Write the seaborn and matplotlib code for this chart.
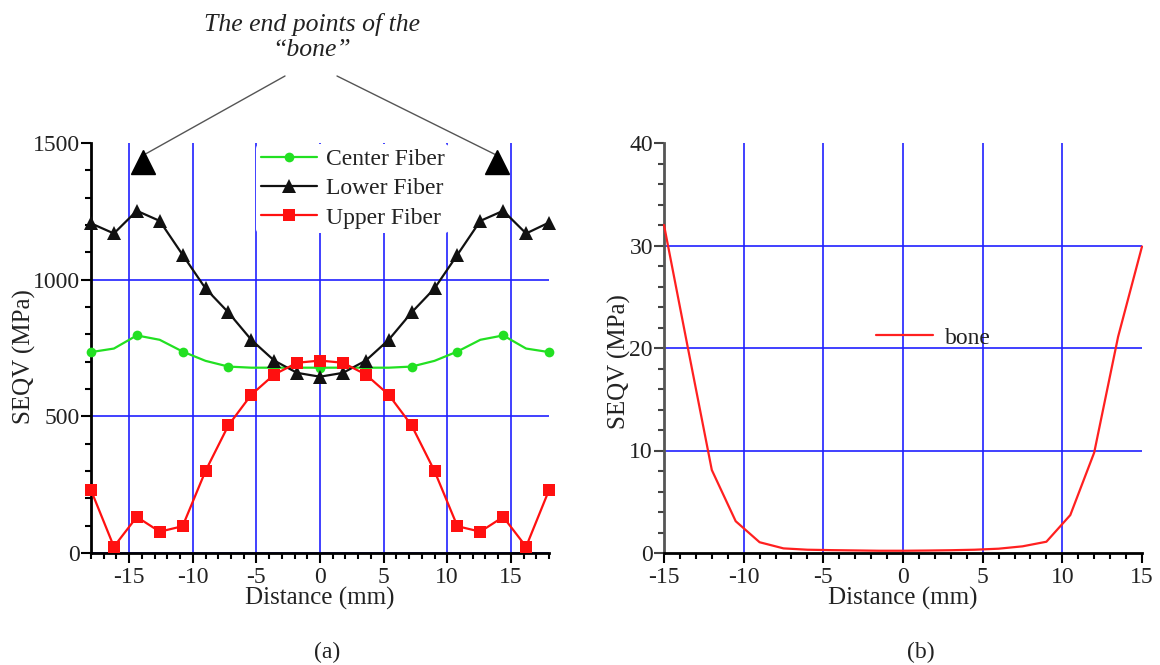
import numpy as np
import pandas as pd
import matplotlib
matplotlib.use("Agg")
import matplotlib.pyplot as plt
import seaborn as sns
from matplotlib.ticker import MultipleLocator

# ---------------- data ----------------
fiber_x = [-18.0, -16.2, -14.4, -12.6, -10.8, -9.0, -7.2, -5.4, -3.6, -1.8, 0.0,
           1.8, 3.6, 5.4, 7.2, 9.0, 10.8, 12.6, 14.4, 16.2, 18.0]
center_fiber = [735, 748, 796, 780, 737, 703, 682, 678, 678, 678, 678,
                678, 678, 678, 682, 703, 737, 780, 796, 748, 735]
lower_fiber = [1206, 1169, 1252, 1215, 1091, 968, 880, 780, 704, 659, 645,
               659, 704, 780, 880, 968, 1091, 1215, 1252, 1169, 1209]
upper_fiber = [230, 23, 132, 78, 98, 300, 467, 579, 653, 696, 704,
               696, 653, 579, 467, 300, 98, 78, 132, 23, 230]

bone_x = [-15.0, -13.5, -12.0, -10.5, -9.0, -7.5, -6.0, -4.5, -3.0, -1.5, 0.0,
          1.5, 3.0, 4.5, 6.0, 7.5, 9.0, 10.5, 12.0, 13.5, 15.0]
bone_y = [32.0, 20.0, 8.1, 3.1, 1.05, 0.45, 0.32, 0.28, 0.25, 0.22, 0.22,
          0.24, 0.27, 0.32, 0.42, 0.65, 1.1, 3.7, 9.8, 21.1, 29.9]

end_points_x = [-13.9, 13.9]
end_points_y = [1430, 1430]

left_xticks = [-15, -10, -5, 0, 5, 10, 15]
left_yticks = [0, 500, 1000, 1500]
right_xticks = [-15, -10, -5, 0, 5, 10, 15]
right_yticks = [0, 10, 20, 30, 40]

# ---------------- style ----------------
sns.set_theme(style="white")
plt.rcParams["font.family"] = ["Liberation Serif", "DejaVu Serif"]
plt.rcParams["font.size"] = 17
plt.rcParams["axes.unicode_minus"] = False
text_color = "#222222"
grid_blue = "#2020ff"
FS_TICK = 17
FS_LABEL = 18
FS_LEG = 17

W, H = 1160, 665
fig = plt.figure(figsize=(W / 100, H / 100), dpi=100)

def px_axes(x0, y0, x1, y1):
    return fig.add_axes([x0 / W, 1 - y1 / H, (x1 - x0) / W, (y1 - y0) / H])

ax1 = px_axes(91, 143, 549, 553)
ax2 = px_axes(664, 143, 1142, 553)

fiber_df = pd.DataFrame({
    "x": fiber_x * 3,
    "y": center_fiber + lower_fiber + upper_fiber,
    "series": ["Center Fiber"] * len(fiber_x) + ["Lower Fiber"] * len(fiber_x)
              + ["Upper Fiber"] * len(fiber_x),
})

styles = {
    "Center Fiber": dict(color="#22e022", marker="o", markersize=7, markevery=2),
    "Lower Fiber": dict(color="#111111", marker="^", markersize=10, markevery=1),
    "Upper Fiber": dict(color="#ff1010", marker="s", markersize=8, markevery=1),
}
for name, st in styles.items():
    sub = fiber_df[fiber_df["series"] == name]
    sns.lineplot(data=sub, x="x", y="y", ax=ax1, color=st["color"], lw=1.6,
                 marker=st["marker"], markersize=st["markersize"],
                 markevery=st["markevery"], markeredgewidth=0, label=name,
                 zorder=3, clip_on=False)

ax1.set_xlim(-18, 18)
ax1.set_ylim(0, 1500)
ax1.set_xticks(left_xticks)
ax1.set_yticks(left_yticks)
ax1.xaxis.set_minor_locator(MultipleLocator(1))
ax1.yaxis.set_minor_locator(MultipleLocator(100))

leg = ax1.legend(loc="upper left", bbox_to_anchor=(0.36, 0.998), frameon=True,
                 fontsize=FS_LEG, handlelength=2.4, handletextpad=0.35,
                 labelspacing=0.33, borderpad=0.2, borderaxespad=0)
leg.get_frame().set_facecolor("white")
leg.get_frame().set_edgecolor("none")
leg.get_frame().set_alpha(1)
for t in leg.get_texts():
    t.set_color(text_color)

# end point markers + annotation
ax1.plot(end_points_x, end_points_y, ls="none", marker="^", ms=17,
         color="black", clip_on=False, zorder=5)
fig.text(312 / W, 1 - 37 / H, "The end points of the\n\u201cbone\u201d",
         ha="center", va="center", style="italic", fontsize=18.5,
         color=text_color, linespacing=1.2)
for ex, ey, sx in zip(end_points_x, end_points_y, [285, 337]):
    ax1.annotate("", xy=(ex, ey + 25), xycoords="data",
                 xytext=(sx / W, 1 - 76 / H), textcoords="figure fraction",
                 arrowprops=dict(arrowstyle="-", color="#555555", lw=1.0,
                                 shrinkA=0, shrinkB=0),
                 annotation_clip=False)

# right panel
bone_df = pd.DataFrame({"x": bone_x, "y": bone_y})
sns.lineplot(data=bone_df, x="x", y="y", ax=ax2, color="#ff2020", lw=1.6,
             label="bone", zorder=3, clip_on=False)
ax2.set_xlim(-15, 15)
ax2.set_ylim(0, 40)
ax2.set_xticks(right_xticks)
ax2.set_yticks(right_yticks)
ax2.xaxis.set_minor_locator(MultipleLocator(1))
ax2.yaxis.set_minor_locator(MultipleLocator(2))
leg2 = ax2.legend(loc="center left", bbox_to_anchor=(0.4, 0.525), frameon=False,
                  fontsize=FS_LEG, handlelength=2.4, handletextpad=0.5)
for t in leg2.get_texts():
    t.set_color(text_color)

for ax, xhide, yhide in [(ax1, [], [1500]), (ax2, [-15, 15], [0, 40])]:
    ax.set_axisbelow(True)
    ax.grid(True, which="major", color=grid_blue, lw=1.2)
    for tick, gl in zip(ax.get_xticks(), ax.xaxis.get_gridlines()):
        if tick in xhide:
            gl.set_visible(False)
    for tick, gl in zip(ax.get_yticks(), ax.yaxis.get_gridlines()):
        if tick in yhide:
            gl.set_visible(False)
    for s in ["top", "right"]:
        ax.spines[s].set_visible(False)
    ax.spines["bottom"].set_color("black")
    ax.spines["bottom"].set_linewidth(2.0)
    ax.spines["left"].set_linewidth(2.0)
    ax.tick_params(which="major", direction="out", length=7, width=1.5,
                   colors="black", labelcolor=text_color, labelsize=FS_TICK,
                   bottom=True, left=True, pad=1)
    ax.tick_params(which="minor", direction="out", length=4, width=1.5,
                   colors="black", bottom=True, left=True)
    ax.tick_params(axis="x", which="major", pad=3)
    ax.set_xlabel("Distance (mm)", fontsize=FS_LABEL, color=text_color,
                  labelpad=-1)
    ax.set_ylabel("SEQV (MPa)", fontsize=FS_LABEL, color=text_color)

ax1.yaxis.set_label_coords(-0.12, 0.478)
ax2.yaxis.set_label_coords(-0.068, 0.466)

ax1.spines["left"].set_color("black")
ax2.spines["left"].set_color("#555555")
ax2.tick_params(axis="y", which="both", colors="#444444", labelcolor=text_color)

fig.text(327 / W, 1 - 652 / H, "(a)", ha="center", va="center", fontsize=FS_TICK,
         color=text_color)
fig.text(921 / W, 1 - 652 / H, "(b)", ha="center", va="center", fontsize=FS_TICK,
         color=text_color)

fig.savefig("out.png", dpi=100, facecolor="white")
